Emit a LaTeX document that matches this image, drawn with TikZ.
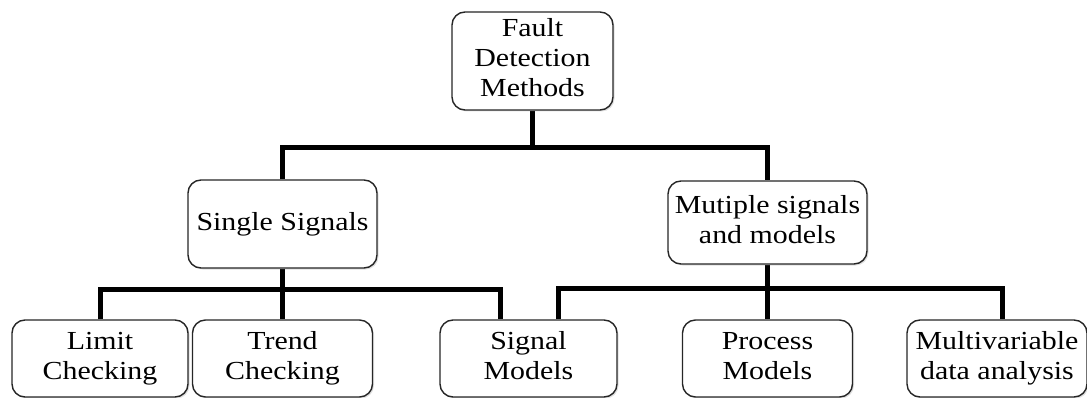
\documentclass[tikz,border=0pt]{standalone}
\usepackage{fontspec}
\setmainfont[FakeStretch=1.15]{Liberation Serif}
\usetikzlibrary{shadows,backgrounds}
\tikzset{
  box/.style={draw=black!85, line width=1.4pt, rounded corners=13pt, fill=white,
    align=center, inner sep=0pt, font=\fontsize{26}{30}\selectfont,
    drop shadow={opacity=0.25, shadow xshift=1.5pt, shadow yshift=-1.5pt}},
  conn/.style={line width=5pt, line join=miter, black}
}
\begin{document}
\begin{tikzpicture}[x=1pt,y=-1pt]
\useasboundingbox (0,0) rectangle (1087,398);
\node[box, minimum width=161pt, minimum height=98pt] (root) at (532.5,61) {\strut Fault\\\strut Detection\\\strut Methods};
\node[box, minimum width=189pt, minimum height=88pt] (single) at (282.5,224) {\strut Single Signals};
\node[box, minimum width=199pt, minimum height=83pt] (multi) at (767.5,222.5) {\strut Mutiple signals\\\strut and models};
\node[box, minimum width=176pt, minimum height=77pt] (limit) at (100,358.5) {\strut Limit\\\strut Checking};
\node[box, minimum width=180pt, minimum height=77pt] (trend) at (282.5,358.5) {\strut Trend\\\strut Checking};
\node[box, minimum width=177pt, minimum height=77pt] (signal) at (528.5,358.5) {\strut Signal\\\strut Models};
\node[box, minimum width=170pt, minimum height=77pt] (process) at (767.5,358.5) {\strut Process\\\strut Models};
\node[box, minimum width=180pt, minimum height=77pt] (multiv) at (997,358.5) {\strut Multivariable\\\strut data analysis};
\coordinate (j0) at (532.5,148);
\coordinate (s1) at (500,289);
\coordinate (j2) at (558,288);
\coordinate (j3) at (1002,288);
\begin{pgfonlayer}{background}
\draw[conn] (root.south) -- (j0);
\draw[conn] (single.north) -- (single.north |- j0) -- (multi.north |- j0) -- (multi.north);
\draw[conn] (single.south) -- (trend.north);
\draw[conn] (limit.north) -- (limit.north |- s1) -- (s1) -- (s1 |- signal.north);
\draw[conn] (multi.south) -- (process.north);
\draw[conn] (j2 |- signal.north) -- (j2) -- (j3) -- (j3 |- multiv.north);
\end{pgfonlayer}
\end{tikzpicture}
\end{document}
